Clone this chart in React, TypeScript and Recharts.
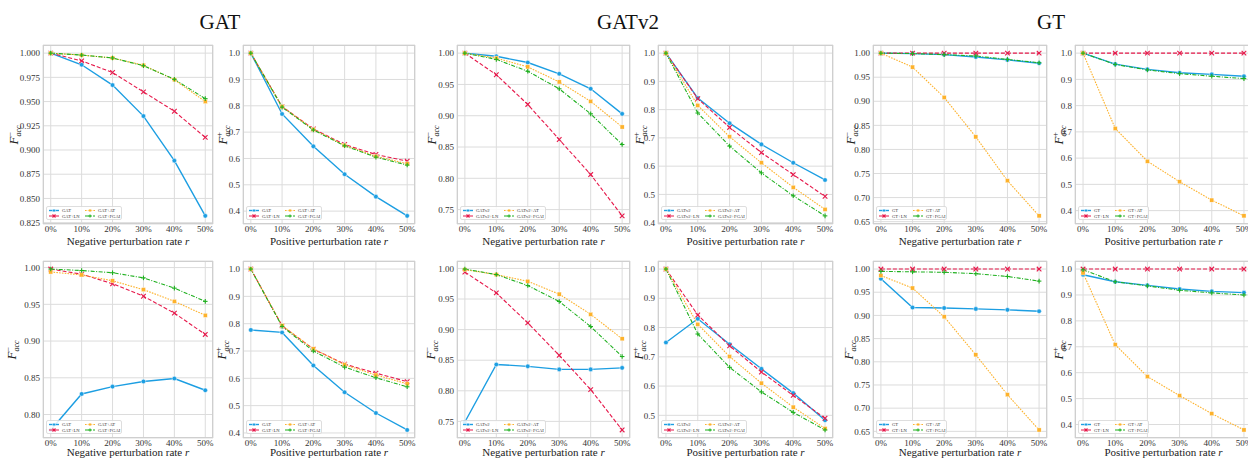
import React from 'react';
import { LineChart, Line, XAxis, YAxis, CartesianGrid } from 'recharts';

// ---------- data ----------
const rates = [0, 10, 20, 30, 40, 50];
const groupTitles = ['GAT', 'GATv2', 'GT'];
const variantSuffixes = ['', '+LN', '+AT', '+FGAI'];
const xLabels = ['Negative perturbation rate ', 'Positive perturbation rate '];

// Row 1
const gatNeg1Base = [1.0, 0.988, 0.967, 0.935, 0.889, 0.832];
const gatNeg1LN = [1.0, 0.992, 0.98, 0.96, 0.94, 0.913];
const gatNeg1AT = [1.0, 0.998, 0.995, 0.9875, 0.9725, 0.95];
const gatNeg1FGAI = [1.0, 0.998, 0.995, 0.987, 0.973, 0.953];

const gatPos1Base = [1.0, 0.769, 0.646, 0.54, 0.455, 0.382];
const gatPos1LN = [1.0, 0.797, 0.712, 0.653, 0.615, 0.59];
const gatPos1AT = [1.0, 0.797, 0.71, 0.65, 0.608, 0.58];
const gatPos1FGAI = [1.0, 0.795, 0.708, 0.648, 0.605, 0.575];

const gatv2Neg1Base = [1.0, 0.995, 0.985, 0.967, 0.943, 0.903];
const gatv2Neg1LN = [1.0, 0.9655, 0.918, 0.862, 0.806, 0.74];
const gatv2Neg1AT = [1.0, 0.992, 0.978, 0.954, 0.923, 0.882];
const gatv2Neg1FGAI = [1.0, 0.99, 0.971, 0.943, 0.903, 0.854];

const gatv2Pos1Base = [1.0, 0.841, 0.752, 0.677, 0.612, 0.551];
const gatv2Pos1LN = [1.0, 0.839, 0.737, 0.648, 0.57, 0.493];
const gatv2Pos1AT = [1.0, 0.815, 0.704, 0.612, 0.525, 0.447];
const gatv2Pos1FGAI = [1.0, 0.788, 0.671, 0.576, 0.495, 0.424];

const gtNeg1Base = [1.0, 0.999, 0.997, 0.992, 0.986, 0.979];
const gtNeg1LN = [1.0, 1.0, 1.0, 1.0, 1.0, 1.0];
const gtNeg1AT = [1.0, 0.971, 0.908, 0.826, 0.735, 0.662];
const gtNeg1FGAI = [1.0, 0.999, 0.997, 0.994, 0.987, 0.98];

const gtPos1Base = [1.0, 0.958, 0.938, 0.925, 0.919, 0.912];
const gtPos1LN = [1.0, 1.0, 1.0, 1.0, 1.0, 1.0];
const gtPos1AT = [1.0, 0.713, 0.588, 0.51, 0.44, 0.38];
const gtPos1FGAI = [1.0, 0.957, 0.936, 0.922, 0.912, 0.903];

// Row 2
const gatNeg2Base = [0.779, 0.828, 0.838, 0.845, 0.849, 0.833];
const gatNeg2LN = [0.998, 0.991, 0.978, 0.961, 0.938, 0.909];
const gatNeg2AT = [0.994, 0.99, 0.982, 0.97, 0.954, 0.935];
const gatNeg2FGAI = [0.998, 0.996, 0.993, 0.986, 0.972, 0.954];

const gatPos2Base = [0.777, 0.768, 0.647, 0.549, 0.473, 0.411];
const gatPos2LN = [1.0, 0.792, 0.707, 0.652, 0.619, 0.588];
const gatPos2AT = [1.0, 0.793, 0.708, 0.65, 0.612, 0.58];
const gatPos2FGAI = [1.0, 0.79, 0.7, 0.641, 0.602, 0.569];

const gatv2Neg2Base = [0.749, 0.843, 0.84, 0.835, 0.835, 0.8375];
const gatv2Neg2LN = [0.994, 0.96, 0.911, 0.858, 0.802, 0.736];
const gatv2Neg2AT = [0.998, 0.99, 0.979, 0.958, 0.925, 0.885];
const gatv2Neg2FGAI = [0.999, 0.99, 0.972, 0.946, 0.905, 0.856];

const gatv2Pos2Base = [0.749, 0.83, 0.743, 0.659, 0.576, 0.483];
const gatv2Pos2LN = [1.0, 0.843, 0.7375, 0.648, 0.568, 0.49];
const gatv2Pos2AT = [1.0, 0.811, 0.701, 0.61, 0.528, 0.455];
const gatv2Pos2FGAI = [1.0, 0.778, 0.664, 0.58, 0.51, 0.45];

const gtNeg2Base = [0.979, 0.917, 0.916, 0.914, 0.912, 0.909];
const gtNeg2LN = [1.0, 1.0, 1.0, 1.0, 1.0, 1.0];
const gtNeg2AT = [0.986, 0.959, 0.897, 0.815, 0.729, 0.653];
const gtNeg2FGAI = [0.995, 0.994, 0.993, 0.99, 0.984, 0.974];

const gtPos2Base = [0.978, 0.951, 0.937, 0.923, 0.914, 0.909];
const gtPos2LN = [1.0, 1.0, 1.0, 1.0, 1.0, 1.0];
const gtPos2AT = [0.985, 0.708, 0.585, 0.5115, 0.442, 0.379];
const gtPos2FGAI = [0.997, 0.951, 0.935, 0.918, 0.908, 0.9];

// y tick values
const ticksGatNeg1 = [0.825, 0.85, 0.875, 0.9, 0.925, 0.95, 0.975, 1.0];
const ticksTenths = [0.4, 0.5, 0.6, 0.7, 0.8, 0.9, 1.0];
const ticksTenths5 = [0.5, 0.6, 0.7, 0.8, 0.9, 1.0];
const ticks075 = [0.75, 0.8, 0.85, 0.9, 0.95, 1.0];
const ticks065 = [0.65, 0.7, 0.75, 0.8, 0.85, 0.9, 0.95, 1.0];
const ticks080 = [0.8, 0.85, 0.9, 0.95, 1.0];

// ---------- styles / layout ----------
const COLORS = ['#1c9ee2', '#e6194b', '#fdb22c', '#1fb01f'];
const DASHES = [undefined, '4 2', '1.6 1.2', '4 1.5 1 1.5'];
const WIDTHS = [1.4, 1.1, 1.1, 1.1];
const SHAPES = ['circle', 'x', 'square', 'plus'];
const FONT = 'Liberation Serif';

const colLeft = [43, 243, 457, 658, 873, 1075];
const colRight = [213, 415, 630, 833, 1047, 1252];
const rowTop = [45, 261];
const rowBottom = [224, 438];
const xLabelY = [241, 452];
const yLabelOffset = [
  [28, 19, 24, 17, 21, 15],
  [30, 20, 25, 18, 23, 15],
];
const legendW = [76, 86, 71];
const legendCol2 = [36, 41, 34];

type PanelDef = { series: number[][]; ticks: number[]; dec: number };

const panels: PanelDef[][] = [
  [
    { series: [gatNeg1Base, gatNeg1LN, gatNeg1AT, gatNeg1FGAI], ticks: ticksGatNeg1, dec: 3 },
    { series: [gatPos1Base, gatPos1LN, gatPos1AT, gatPos1FGAI], ticks: ticksTenths, dec: 1 },
    { series: [gatv2Neg1Base, gatv2Neg1LN, gatv2Neg1AT, gatv2Neg1FGAI], ticks: ticks075, dec: 2 },
    { series: [gatv2Pos1Base, gatv2Pos1LN, gatv2Pos1AT, gatv2Pos1FGAI], ticks: ticksTenths, dec: 1 },
    { series: [gtNeg1Base, gtNeg1LN, gtNeg1AT, gtNeg1FGAI], ticks: ticks065, dec: 2 },
    { series: [gtPos1Base, gtPos1LN, gtPos1AT, gtPos1FGAI], ticks: ticksTenths, dec: 1 },
  ],
  [
    { series: [gatNeg2Base, gatNeg2LN, gatNeg2AT, gatNeg2FGAI], ticks: ticks080, dec: 2 },
    { series: [gatPos2Base, gatPos2LN, gatPos2AT, gatPos2FGAI], ticks: ticksTenths, dec: 1 },
    { series: [gatv2Neg2Base, gatv2Neg2LN, gatv2Neg2AT, gatv2Neg2FGAI], ticks: ticks075, dec: 2 },
    { series: [gatv2Pos2Base, gatv2Pos2LN, gatv2Pos2AT, gatv2Pos2FGAI], ticks: ticksTenths5, dec: 1 },
    { series: [gtNeg2Base, gtNeg2LN, gtNeg2AT, gtNeg2FGAI], ticks: ticks065, dec: 2 },
    { series: [gtPos2Base, gtPos2LN, gtPos2AT, gtPos2FGAI], ticks: ticksTenths, dec: 1 },
  ],
];

function Marker({ shape, cx, cy, color, s = 2.3 }: any) {
  if (cx == null || cy == null) return null;
  if (shape === 'circle')
    return <circle cx={cx} cy={cy} r={s} fill={color} stroke="#fff" strokeWidth={0.5} />;
  if (shape === 'square')
    return <rect x={cx - s * 0.9} y={cy - s * 0.9} width={s * 1.8} height={s * 1.8} fill={color} stroke="#fff" strokeWidth={0.4} />;
  if (shape === 'x')
    return (
      <g stroke={color} strokeWidth={1.1}>
        <line x1={cx - s} y1={cy - s} x2={cx + s} y2={cy + s} />
        <line x1={cx - s} y1={cy + s} x2={cx + s} y2={cy - s} />
      </g>
    );
  return (
    <g stroke={color} strokeWidth={1.1}>
      <line x1={cx - s} y1={cy} x2={cx + s} y2={cy} />
      <line x1={cx} y1={cy - s} x2={cx} y2={cy + s} />
    </g>
  );
}

function YLabel({ sign, cx, cy }: { sign: string; cx: number; cy: number }) {
  return (
    <svg
      width={24}
      height={50}
      style={{ position: 'absolute', left: cx - 12, top: cy - 25, overflow: 'visible' }}
    >
      <text
        transform="translate(15,25) rotate(-90)"
        textAnchor="middle"
        style={{ fontFamily: FONT }}
        fill="#222"
      >
        <tspan fontStyle="italic" fontSize={13}>F</tspan>
        <tspan fontSize={8} dy={-5.5}>{sign}</tspan>
        <tspan fontSize={8} fontStyle="italic" dx={-4.5} dy={8.5}>acc</tspan>
      </text>
    </svg>
  );
}

function LegendBox({ group, left, bottom }: { group: number; left: number; bottom: number }) {
  const w = legendW[group];
  const h = 14;
  const c2 = legendCol2[group];
  const pos = [
    [0, 0],
    [0, 1],
    [c2, 0],
    [c2, 1],
  ];
  return (
    <svg width={w} height={h} style={{ position: 'absolute', left, top: bottom - h }}>
      <rect x={0.5} y={0.5} width={w - 1} height={h - 1} rx={1.5} fill="rgba(255,255,255,0.85)" stroke="#d6d6d6" strokeWidth={0.8} />
      {variantSuffixes.map((suf, i) => {
        const x0 = 3 + pos[i][0];
        const y0 = 4.5 + pos[i][1] * 5.5;
        return (
          <g key={i}>
            <line x1={x0} y1={y0} x2={x0 + 10} y2={y0} stroke={COLORS[i]} strokeWidth={WIDTHS[i]} strokeDasharray={DASHES[i]} />
            <Marker shape={SHAPES[i]} cx={x0 + 5} cy={y0} color={COLORS[i]} s={1.5} />
            <text x={x0 + 13} y={y0 + 1.6} fontSize={4.6} style={{ fontFamily: FONT }} fill="#333">
              {groupTitles[group] + suf}
            </text>
          </g>
        );
      })}
    </svg>
  );
}

function Panel({ row, col }: { row: number; col: number }) {
  const def = panels[row][col];
  const group = Math.floor(col / 2);
  const positive = col % 2 === 1;
  const pl = colLeft[col];
  const pr = colRight[col];
  const pt = rowTop[row];
  const pb = rowBottom[row];
  const pw = pr - pl;
  const ph = pb - pt;
  const yW = 40;
  const mt = 4;
  const mr = 4;
  const xH = 16;
  const all = def.series.flat();
  const mn = Math.min(...all);
  const mx = Math.max(...all);
  const pad = (mx - mn) * 0.05;
  const data = rates.map((r, i) => {
    const o: any = { x: r };
    def.series.forEach((s, k) => (o['s' + k] = s[i]));
    return o;
  });
  const tickStyle = { fill: '#333', fontSize: 9, fontFamily: FONT, style: { fontFamily: FONT } };
  return (
    <>
      <div style={{ position: 'absolute', left: pl - yW, top: pt - mt, fontFamily: FONT }}>
        <LineChart
          width={yW + pw + mr}
          height={mt + ph + xH}
          data={data}
          margin={{ top: mt, right: mr, bottom: 0, left: 0 }}
          style={{ fontFamily: FONT }}
        >
          <CartesianGrid stroke="#dcdcdc" strokeWidth={1} />
          <XAxis
            dataKey="x"
            type="number"
            domain={[-2.5, 52.5]}
            ticks={rates}
            interval={0}
            tickFormatter={(v: number) => `${v}%`}
            axisLine={false}
            tickLine={false}
            tickSize={0}
            tickMargin={2}
            height={xH}
            tick={tickStyle}
            allowDataOverflow
          />
          <YAxis
            type="number"
            domain={[mn - pad, mx + pad]}
            ticks={def.ticks}
            interval={0}
            tickFormatter={(v: number) => v.toFixed(def.dec)}
            axisLine={false}
            tickLine={false}
            tickSize={0}
            tickMargin={3}
            width={yW}
            tick={tickStyle}
            allowDataOverflow
          />
          {def.series.map((_, k) => (
            <Line
              key={k}
              dataKey={'s' + k}
              type="linear"
              stroke={COLORS[k]}
              strokeWidth={WIDTHS[k]}
              strokeDasharray={DASHES[k]}
              isAnimationActive={false}
              activeDot={false}
              dot={(p: any) => (
                <Marker key={'m' + k + '-' + p.index} shape={SHAPES[k]} cx={p.cx} cy={p.cy} color={COLORS[k]} />
              )}
            />
          ))}
        </LineChart>
      </div>
      <div
        style={{
          position: 'absolute',
          left: pl,
          top: pt,
          width: pw,
          height: ph,
          border: '1.2px solid #cfcfcf',
          boxSizing: 'border-box',
          pointerEvents: 'none',
        }}
      />
      <LegendBox group={group} left={pl + 3} bottom={pb - 4} />
      <YLabel sign={positive ? '+' : '\u2212'} cx={pl - yLabelOffset[row][col]} cy={(pt + pb) / 2} />
      <div
        style={{
          position: 'absolute',
          left: pl - 40,
          width: pw + 80,
          top: xLabelY[row] - 6,
          textAlign: 'center',
          fontFamily: FONT,
          fontSize: 11,
          color: '#222',
          lineHeight: '12px',
          whiteSpace: 'nowrap',
        }}
      >
        {xLabels[positive ? 1 : 0]}
        <i>r</i>
      </div>
    </>
  );
}

const titleCenters = [220, 628, 1051];

export default function App() {
  return (
    <div
      style={{
        position: 'absolute',
        left: 0,
        top: 0,
        width: 1248,
        height: 458,
        overflow: 'hidden',
        background: '#fff',
        fontFamily: FONT,
      }}
    >
      {groupTitles.map((t, i) => (
        <div
          key={t}
          style={{
            position: 'absolute',
            left: titleCenters[i] - 60,
            width: 120,
            top: 9,
            textAlign: 'center',
            fontFamily: FONT,
            fontSize: 21,
            lineHeight: '26px',
            color: '#111',
          }}
        >
          {t}
        </div>
      ))}
      {[0, 1].map((r) => [0, 1, 2, 3, 4, 5].map((c) => <Panel key={r + '-' + c} row={r} col={c} />))}
    </div>
  );
}
